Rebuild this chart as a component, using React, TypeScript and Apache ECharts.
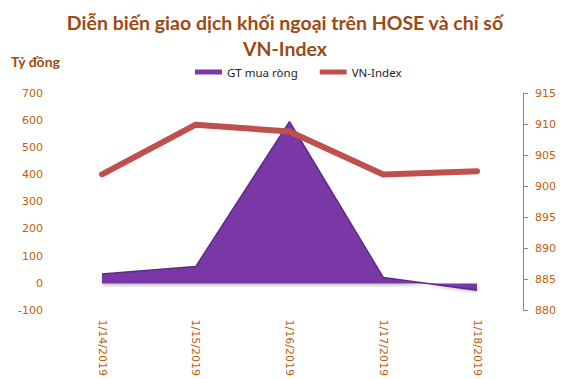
import React, { useEffect, useRef } from "react";
import * as echarts from "echarts";

const categories = ["1/14/2019", "1/15/2019", "1/16/2019", "1/17/2019", "1/18/2019"];
const netBuy = [35, 62, 595, 22, -25];
const vnIndex = [901.9, 909.9, 908.8, 901.9, 902.4];
const leftTicks = { min: -100, max: 700, interval: 100 };
const rightTicks = { min: 880, max: 915, interval: 5 };

export default function App() {
  const ref = useRef<HTMLDivElement>(null);
  useEffect(() => {
    if (!ref.current) return;
    const chart = echarts.init(ref.current, undefined, { renderer: "svg" });
    const tickColor = "#c0600a";
    const brown = "#9c4a14";
    chart.setOption({
      animation: false,
      backgroundColor: "#ffffff",
      title: {
        text: "Diễn biến giao dịch khối ngoại trên HOSE và chỉ số\nVN-Index",
        left: "center",
        top: 4,
        textStyle: {
          fontFamily: "Lato",
          fontWeight: "bold",
          fontSize: 19.5,
          color: brown,
          lineHeight: 26,
        },
      },
      graphic: [
        {
          type: "text",
          left: 11,
          top: 54,
          style: {
            text: "Tỷ đồng",
            fontFamily: "Lato",
            fontWeight: "bold",
            fontSize: 14,
            fill: brown,
          },
        },
      ],
      legend: {
        left: 190,
        top: 61,
        itemWidth: 27,
        itemHeight: 5,
        itemGap: 22,
        textStyle: { fontFamily: "Noto Sans", fontSize: 11.5, color: "#222" },
        data: [
          { name: "GT mua ròng", icon: "rect", itemStyle: { color: "#7b38a8" } },
          { name: "VN-Index", icon: "roundRect", itemStyle: { color: "#c0504d" } },
        ],
      },
      grid: { left: 102, right: 93, top: 93, bottom: 67 },
      xAxis: {
        type: "category",
        data: categories,
        boundaryGap: false,
        axisLine: { show: false },
        axisTick: { show: false },
        axisLabel: {
          rotate: -90,
          margin: 9,
          color: tickColor,
          fontFamily: "DejaVu Sans",
          fontSize: 11,
        },
      },
      yAxis: [
        {
          type: "value",
          ...leftTicks,
          splitLine: { show: false },
          axisLine: { show: false },
          axisTick: { show: false },
          axisLabel: {
            color: tickColor,
            fontFamily: "DejaVu Sans",
            fontSize: 11,
            margin: 59,
          },
        },
        {
          type: "value",
          position: "right",
          ...rightTicks,
          splitLine: { show: false },
          offset: 46,
          axisLine: { show: true, lineStyle: { color: "#888", width: 1 } },
          axisTick: { show: true, inside: false, length: 5, lineStyle: { color: "#888" } },
          axisLabel: {
            color: tickColor,
            fontFamily: "DejaVu Sans",
            fontSize: 11,
            margin: 12,
          },
        },
      ],
      series: [
        {
          name: "GT mua ròng",
          type: "line",
          data: netBuy,
          yAxisIndex: 0,
          symbol: "none",
          lineStyle: { color: "#5e2a86", width: 1.5 },
          itemStyle: { color: "#7b38a8" },
          areaStyle: {
            color: "#7a37a7",
            opacity: 1,
            shadowColor: "rgba(0,0,0,0.25)",
            shadowBlur: 3,
            shadowOffsetY: 2,
          },
          z: 1,
        },
        {
          name: "VN-Index",
          type: "line",
          data: vnIndex,
          yAxisIndex: 1,
          symbol: "none",
          lineStyle: { color: "#c0504d", width: 6, cap: "round", join: "round" },
          itemStyle: { color: "#c0504d" },
          z: 2,
        },
      ],
    });
    return () => chart.dispose();
  }, []);
  return (
    <div
      ref={ref}
      style={{ position: "absolute", left: 0, top: 0, width: 570, height: 379 }}
    />
  );
}
